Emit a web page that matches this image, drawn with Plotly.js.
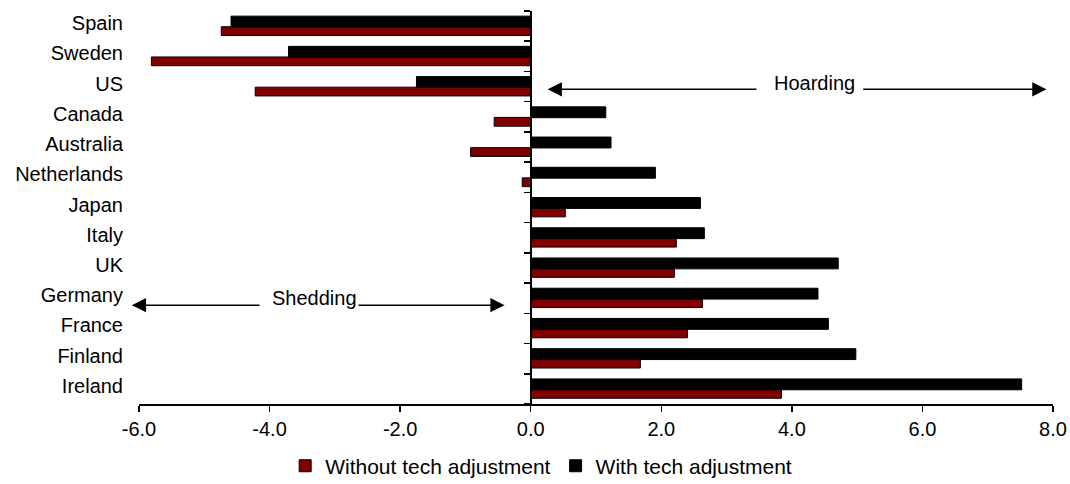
<!DOCTYPE html>
<html>
<head>
<meta charset="utf-8">
<script src="https://cdn.plot.ly/plotly-3.0.1.min.js"></script>
<style>html,body{margin:0;padding:0;background:#fff;}#chart{width:1070px;height:484px;}</style>
</head>
<body>
<div id="chart"></div>
<script>
// Categories, top to bottom as in the chart
const countries = ["Spain","Sweden","US","Canada","Australia","Netherlands","Japan","Italy","UK","Germany","France","Finland","Ireland"];
const withoutTech = [-4.74,-5.81,-4.22,-0.56,-0.92,-0.13,0.53,2.23,2.20,2.63,2.40,1.68,3.84];
const withTech    = [-4.59,-3.71,-1.75,1.15,1.23,1.91,2.60,2.66,4.71,4.40,4.56,4.98,7.52];
const seriesNames = ["Without tech adjustment","With tech adjustment"];
const xTicks = [-6,-4,-2,0,2,4,6,8];
const xTickText = xTicks.map(v => v.toFixed(1));

const FONT = "Liberation Sans, Arial, sans-serif";
const W = 1070, H = 484;
const margin = {l:139, r:17, t:11, b:80, autoexpand:false};
const xMin = xTicks[0], xMax = xTicks[xTicks.length-1];
const plotW = W - margin.l - margin.r;
const pxPerUnit = plotW / (xMax - xMin);
const n = countries.length;
const catOrder = countries.slice().reverse(); // bottom-to-top
const idx = name => catOrder.indexOf(name);
const toPaper = v => (v - xMin) / (xMax - xMin);

const traces = [
  {type:'bar', orientation:'h', name:seriesNames[0], y:countries, x:withoutTech,
   marker:{color:'#800000', line:{color:'#000', width:1}}, width:0.29, offset:-0.31},
  {type:'bar', orientation:'h', name:seriesNames[1], y:countries, x:withTech,
   marker:{color:'#000', line:{color:'#000', width:1}}, width:0.36, offset:-0.03},
  {type:'scatter', x:[null], y:[null], yaxis:'y2', showlegend:false, hoverinfo:'skip'}
];

const boundaries = [];
for (let i = 0; i <= n; i++) boundaries.push(i - 0.5);

function arrow(head, tail, yv) {
  return {xref:'paper', yref:'y2', x:toPaper(head), y:yv, text:'', showarrow:true,
    axref:'pixel', ayref:'pixel', ax:(tail-head)*pxPerUnit, ay:0,
    arrowhead:2, arrowsize:1.9, arrowwidth:1.5, arrowcolor:'#000'};
}
function label(txt, xv, yv) {
  return {xref:'paper', yref:'y2', x:toPaper(xv), y:yv, text:txt, showarrow:false,
    font:{family:FONT, size:20, color:'#000'}, xanchor:'center', yanchor:'middle'};
}
const hoardY = idx("US") - 0.09, shedY = idx("Germany") - 0.23;

const layout = {
  width:W, height:H, margin:margin, paper_bgcolor:'#fff', plot_bgcolor:'#fff',
  font:{family:FONT, size:20, color:'#000'},
  barmode:'overlay', showlegend:true,
  xaxis:{range:[xMin,xMax], tickvals:xTicks, ticktext:xTickText, ticks:'outside', ticklen:6,
    tickwidth:1.5, tickcolor:'#000', showline:true, linecolor:'#000', linewidth:1.5,
    showgrid:false, zeroline:false, tickfont:{family:FONT, size:20}, domain:[0,1], automargin:false},
  yaxis:{type:'category', categoryorder:'array', categoryarray:catOrder, range:[-0.5,n-0.5],
    showline:false, showgrid:false, zeroline:false, ticks:'', ticklabelstandoff:15,
    ticklabelshift:-3, tickfont:{family:FONT, size:20}, automargin:false},
  yaxis2:{overlaying:'y', anchor:'free', position:toPaper(0), range:[-0.5,n-0.5],
    tickvals:boundaries, showticklabels:false, ticks:'outside', ticklen:6, tickwidth:1.5,
    tickcolor:'#000', showline:true, linecolor:'#000', linewidth:2, showgrid:false, zeroline:false},
  legend:{orientation:'h', x:0.44, xanchor:'center', y:-0.158, yanchor:'middle',
    font:{family:FONT, size:21}, itemwidth:30, traceorder:'normal'},
  annotations:[
    arrow(0.26, 3.48, hoardY), arrow(7.9, 5.07, hoardY), label("Hoarding", 4.35, idx("US")+0.11),
    arrow(-6.11, -4.13, shedY), arrow(-0.40, -2.66, shedY), label("Shedding", -3.31, idx("Germany")+0.0)
  ]
};
Plotly.newPlot('chart', traces, layout, {displayModeBar:false, staticPlot:true});
</script>
</body>
</html>
